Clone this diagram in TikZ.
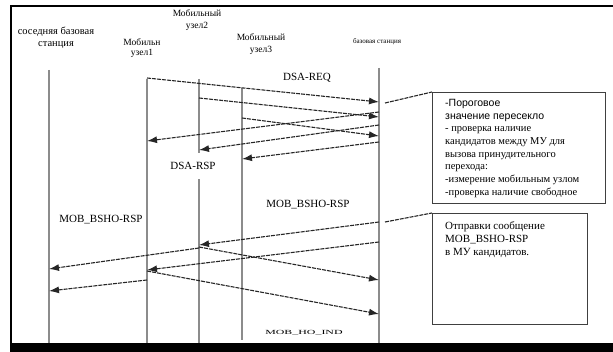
\documentclass[tikz,border=0pt]{standalone}
\usepackage{fontspec}
\setmainfont{Liberation Serif}
\newfontfamily\sansfont{Liberation Sans}
\usetikzlibrary{arrows.meta}

\tikzset{
	life/.style={draw=black!45, line width=1.4pt},
	msg/.style={draw=black!85, line width=1.1pt, dash pattern=on 4pt off 1pt, -{Latex[length=10pt,width=7pt]}},
	note/.style={draw=black!85, line width=1.1pt, dash pattern=on 4pt off 1pt},
	notebox/.style={draw=black!75, line width=0.8pt, anchor=north west, inner sep=0pt},
	notetext/.style={anchor=north west, align=left, inner sep=0pt},
	headlbl/.style={align=center, inner sep=0pt},
	msglbl/.style={inner sep=0pt, font=\fontsize{11}{13}\selectfont},
}

\begin{document}
\begin{tikzpicture}[x=1pt,y=-1pt]
\useasboundingbox (0,0) rectangle (613,352);
\draw[line width=2.5pt] (11,352) -- (11,6) -- (613,6); % frame
\fill (10,343) rectangle (613,352); % bottom bar

% heads of the lifelines
\coordinate (nbs) at (49,70);
\coordinate (u1) at (147,79);
\coordinate (u2) at (199,79);
\coordinate (u3) at (242,88);
\coordinate (bs) at (379,68);
\node[headlbl, font=\fontsize{10.5}{11.5}\selectfont] (nbsl) at (56,38) {соседняя базовая\\станция};
\node[headlbl, font=\fontsize{9.5}{10.5}\selectfont] (u1l) at (142,48) {Мобильн\\узел1};
\node[headlbl, font=\fontsize{9.5}{12}\selectfont] (u2l) at (197,20) {Мобильный\\узел2};
\node[headlbl, font=\fontsize{9.5}{12}\selectfont] (u3l) at (261,44) {Мобильный\\узел3};
\node[headlbl, font=\fontsize{7}{10}\selectfont] (bsl) at (377,42) {базовая станция};

\foreach \c in {nbs,u1,u2,bs} \draw[life] (\c) -- (\c |- 0,343); % lifelines
\draw[life] (u3) -- (u3 |- 0,340);

% message labels
\node[msglbl] (req) at (307,78) {DSA-REQ};
\node[msglbl, fill=white, inner ysep=9pt] (rsp) at (193,166) {DSA-RSP};
\node[msglbl] (bsho1) at (101,220) {MOB\_BSHO-RSP};
\node[msglbl] (bsho2) at (308,205) {MOB\_BSHO-RSP};
\node[inner sep=0pt, font=\fontsize{7}{8}\selectfont] (hoind) at (304,333) {\scalebox{1.7}[0.9]{MOB\_HO\_IND}};

% DSA-REQ
\draw[msg] (u1 |- 0,78) -- (bs |- 0,102);
\draw[msg] (u2 |- 0,98) -- (bs |- 0,117);
\draw[msg] (u3 |- 0,118) -- (bs |- 0,136);
% DSA-RSP
\draw[msg] (bs |- 0,112) -- (u1 |- 0,141);
\draw[msg] (bs |- 0,125) -- (u2 |- 0,150);
\draw[msg] (bs |- 0,142) -- (u3 |- 0,159);
% MOB_BSHO-RSP
\draw[msg] (bs |- 0,222) -- (u2 |- 0,245);
\draw[msg] (u2 |- 0,248) -- (nbs |- 0,269);
\draw[msg] (bs |- 0,242) -- (u1 |- 0,270);
\draw[msg] (u2 |- 0,247) -- (bs |- 0,280);
\draw[msg] (u1 |- 0,271) -- (bs |- 0,314);
\draw[msg] (u1 |- 0,280) -- (nbs |- 0,291);

% notes
\node[notebox, minimum width=173pt, minimum height=111pt] (box1) at (432,92) {};
\node[notetext, font=\fontsize{10.5}{12.7}\selectfont] (box1txt) at (445,99) {%
	{\sansfont -Пороговое}\\
	{\sansfont значение пересекло}\\
	- проверка наличие\\
	кандидатов между МУ для\\
	вызова принудительного\\
	перехода:\\
	-измерение мобильным узлом\\
	-проверка наличие свободное};
\node[notebox, minimum width=155pt, minimum height=111pt] (box2) at (432,213) {};
\node[notetext, font=\fontsize{11}{13}\selectfont] (box2txt) at (445,221) {%
	Отправки сообщение\\
	MOB\_BSHO-RSP\\
	в МУ кандидатов.};
\coordinate (n1) at (385,103);
\coordinate (n2) at (385,222);
\draw[note] (n1) -- (box1.north west);
\draw[note] (n2) -- (box2.north west);
\end{tikzpicture}
\end{document}
